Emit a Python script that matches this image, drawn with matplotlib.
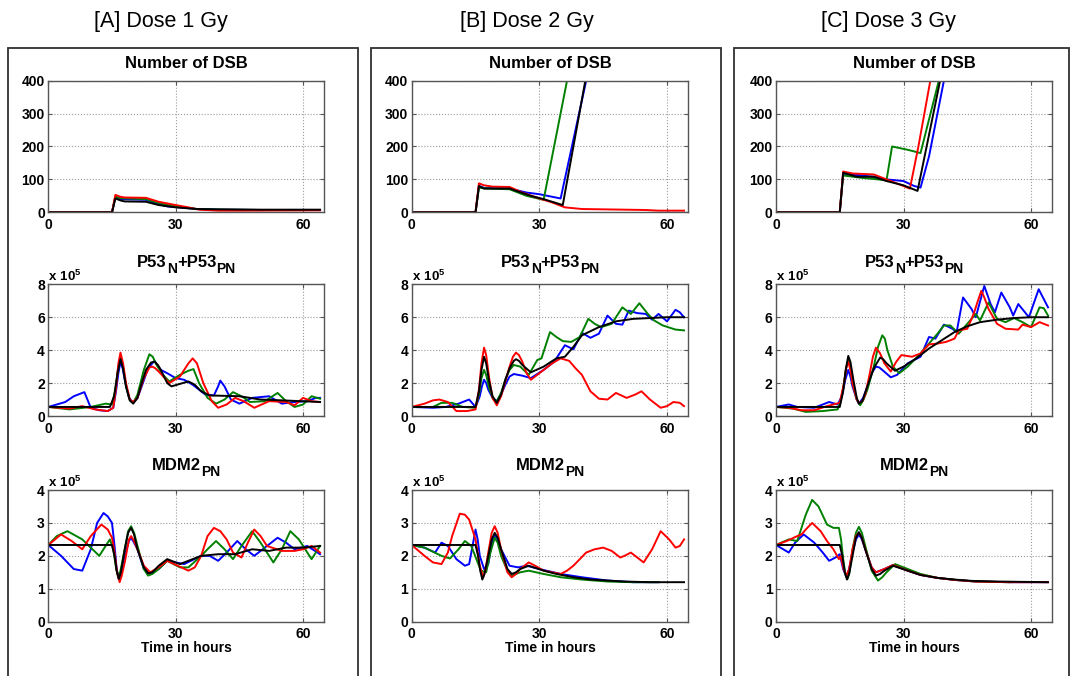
import matplotlib
matplotlib.use("Agg")
import matplotlib.pyplot as plt
from matplotlib.patches import Rectangle
from matplotlib.transforms import IdentityTransform

plt.rcParams['font.family'] = ['Liberation Sans', 'DejaVu Sans']
plt.rcParams['mathtext.fontset'] = 'custom'
plt.rcParams['mathtext.rm'] = 'Liberation Sans'
plt.rcParams['mathtext.bf'] = 'Liberation Sans:bold'

# ---------------- data (time in hours, value) ----------------
COLUMN_TITLES = ['[A] Dose 1 Gy', '[B] Dose 2 Gy', '[C] Dose 3 Gy']
# row titles: list of (text, is_subscript)
ROW_TITLES = [
    [('Number of DSB', False)],
    [('P53', False), ('N', True), ('+P53', False), ('PN', True)],
    [('MDM2', False), ('PN', True)],
]
X_TICKS = [0, 30, 60]
Y_TICKS_DSB = [0, 100, 200, 300, 400]
Y_TICKS_P53 = [0, 2, 4, 6, 8]      # x 10^5
Y_TICKS_MDM2 = [0, 1, 2, 3, 4]     # x 10^5
X_LABEL = 'Time in hours'

# ---- [A] 1 Gy ----
A_DSB_BLUE = [(0,0),(15,0),(15.8,46),(17,40),(23,38),(26,25),(28,18),(30,16),(35,10),(40,8),(50,7),(64,7)]
A_DSB_GREEN = [(0,0),(15,0),(15.8,48),(17,43),(23,40),(26,28),(30,18),(35,10),(40,8),(50,7),(64,7)]
A_DSB_RED = [(0,0),(15,0),(15.8,53),(17,47),(18,45),(23,44),(26,32),(30,22),(33,15),(35.5,8),(40,5),(45,5),(64,6)]
A_DSB_BLACK = [(0,0),(15,0),(15.8,42),(17,36),(18,33),(23,32),(26,22),(30,15),(35,10),(40,9),(50,8),(64,8)]

A_P53_BLUE = [(0,.55),(2,.7),(4,.85),(6,1.2),(8.5,1.45),(10,.5),(12,.35),(14,.3),(15.3,.5),(16,1.6),(16.5,2.6),(17,3.3),(17.5,2.9),(18,2.2),(19,1.1),(20,.8),(21,1.1),(22,1.8),(23.5,2.9),(25,3.35),(26.5,2.8),(28,2.6),(30,2.3),(32,2.2),(34,1.9),(37,1.3),(39,1.25),(40,1.8),(40.5,2.15),(41.5,1.8),(43,1.0),(45,.75),(48,1.1),(52,1.2),(55,.75),(58,.85),(61,.9),(63,1.1),(64,1.1)]
A_P53_GREEN = [(0,.55),(5,.4),(10,.55),(13.5,.75),(15,.7),(15.8,1.6),(16.4,2.8),(17,3.6),(17.6,3.0),(18.3,1.8),(19.2,.95),(20,.8),(21,1.3),(22.5,2.8),(23.8,3.75),(24.6,3.6),(25.5,3.1),(27,2.5),(28.5,2.1),(31,2.5),(33,2.75),(34.2,2.85),(35.5,2.0),(37.5,1.1),(39.5,.75),(41.5,1.0),(43.5,1.45),(45.5,1.2),(47.5,.85),(51,.9),(54,1.4),(56,.9),(58,.55),(60,.7),(62,1.2),(64,1.05)]
A_P53_RED = [(0,.55),(2.5,.5),(5,.45),(8,.6),(11,.4),(14,.3),(15.3,.5),(16,1.8),(16.5,3.2),(17,3.85),(17.6,3.2),(18.3,2.0),(19.2,1.0),(20,.85),(21,1.1),(22.5,2.3),(23.8,2.95),(24.5,3.0),(25.2,2.9),(26,2.7),(28.5,2.0),(31,2.4),(33,3.2),(34,3.5),(35,3.2),(36.5,2.0),(38.5,.9),(40,.5),(42,.7),(44,1.1),(46,.9),(48.5,.5),(52,.9),(56,.85),(58,.65),(60,1.1),(62,.9),(64,.85)]
A_P53_BLACK = [(0,.55),(14.5,.55),(15.5,1.2),(16.3,2.6),(17,3.45),(17.6,2.9),(18.3,1.8),(19.2,.95),(20,.75),(21,1.1),(22,2.0),(23,2.8),(24.2,3.25),(25,3.3),(25.8,3.1),(26.5,2.8),(28,2.0),(29,1.8),(31,1.95),(33,2.1),(34.5,1.9),(36,1.5),(38,1.25),(45,1.2),(50,1.0),(55,.95),(64,.85)]

A_MDM2_BLUE = [(0,2.33),(3,2.0),(6,1.6),(8,1.55),(10,2.2),(11.5,3.0),(13,3.3),(14,3.2),(15,3.0),(15.6,2.3),(16.1,1.6),(16.6,1.3),(17.2,1.55),(18,2.0),(19,2.45),(19.5,2.55),(20.2,2.4),(21,2.2),(22.5,1.6),(24,1.45),(26,1.6),(28,1.85),(32,1.75),(36,2.0),(38,2.0),(40,1.85),(42,2.1),(44.5,2.45),(46.5,2.2),(48.5,2.0),(51,2.25),(54,2.55),(56,2.4),(58,2.2),(61,2.3),(64,2.05)]
A_MDM2_GREEN = [(0,2.33),(2,2.6),(4.5,2.75),(8,2.5),(10,2.25),(12,2.0),(13.5,2.3),(14.5,2.5),(15.3,2.2),(16,1.6),(16.5,1.35),(17,1.55),(18,2.2),(18.8,2.75),(19.5,2.9),(20.2,2.7),(21,2.3),(22.5,1.6),(23.5,1.4),(24.5,1.45),(26,1.6),(28,1.85),(31,1.65),(33,1.65),(36,2.0),(37.5,2.2),(39.5,2.45),(41.5,2.2),(43.5,1.9),(45.5,2.3),(48,2.75),(50,2.4),(53,1.8),(55,2.2),(57,2.75),(59,2.5),(62,1.9),(64,2.3)]
A_MDM2_RED = [(0,2.33),(3,2.65),(5.5,2.45),(8,2.2),(10,2.6),(12.5,2.95),(14,2.8),(15,2.55),(15.6,2.1),(16.2,1.5),(16.8,1.2),(17.3,1.4),(18,1.8),(19,2.5),(19.5,2.6),(20.2,2.45),(21,2.2),(22.5,1.7),(24,1.5),(26,1.65),(28,1.85),(30.5,1.7),(33,1.55),(34.5,1.65),(36,2.0),(37.5,2.6),(39,2.85),(40.5,2.75),(42,2.5),(43.5,2.1),(45.5,1.95),(47,2.4),(48.5,2.8),(50,2.6),(51.5,2.3),(55,2.15),(58,2.15),(60,2.2),(62,2.3),(64,2.1)]
A_MDM2_BLACK = [(0,2.33),(15,2.33),(15.6,2.0),(16.1,1.55),(16.6,1.3),(17.1,1.5),(18,2.2),(18.8,2.7),(19.5,2.85),(20.2,2.65),(21,2.2),(22.5,1.65),(23.5,1.47),(24.5,1.5),(26,1.7),(28,1.9),(31,1.75),(33,1.85),(36,2.0),(40,2.05),(44,2.05),(48,2.2),(52,2.15),(56,2.25),(60,2.25),(64,2.3)]

# ---- [B] 2 Gy ----
B_DSB_BLUE = [(0,0),(15,0),(15.8,80),(17,74),(23,72),(27,60),(30,55),(35,42),(41,400),(41.5,430)]
B_DSB_GREEN = [(0,0),(15,0),(15.8,75),(17,73),(23,70),(27,50),(31,38),(36.5,400),(37,430)]
B_DSB_RED = [(0,0),(15,0),(15.8,88),(17,82),(19,78),(23,77),(26,60),(30,42),(33,30),(36,15),(40,10),(50,8),(55,7),(58,5),(64,5)]
B_DSB_BLACK = [(0,0),(15,0),(15.8,80),(17,72),(23,72),(28,50),(31,40),(35.5,22),(40.8,400),(41.3,430)]

B_P53_BLUE = [(0,.55),(5,.5),(8,.55),(11,.75),(13.5,1.0),(15,.55),(16,1.2),(16.5,1.8),(17,2.2),(17.5,2.0),(18,1.6),(19,1.1),(20,.9),(21,1.3),(22,1.9),(23,2.4),(24,2.55),(26,2.45),(28,2.3),(31,2.8),(33.5,3.3),(36,4.3),(38,4.05),(40,5.05),(42,4.75),(44,5.0),(46,6.1),(48,5.6),(49.5,5.55),(51,6.4),(53,6.25),(55,6.2),(56.5,5.85),(58,6.2),(60,5.75),(62,6.45),(63,6.3),(64,6.0)]
B_P53_GREEN = [(0,.55),(5,.55),(7,.8),(9.5,.8),(12,.55),(15,.5),(15.8,1.3),(16.4,2.3),(17,2.8),(17.5,2.5),(18.2,1.7),(19.2,1.0),(20,.9),(21,1.4),(22,2.2),(23,2.8),(24,3.1),(25.5,3.0),(27.5,2.5),(29.5,3.4),(30.5,3.5),(32.5,5.1),(34,4.8),(35.5,4.55),(37.5,4.5),(39.5,4.8),(41.5,5.9),(43,5.6),(44.5,5.4),(47,5.6),(49.5,6.6),(51.5,6.2),(53.5,6.85),(55.5,6.2),(57,5.8),(59,5.5),(62,5.25),(64,5.2)]
B_P53_RED = [(0,.55),(3,.75),(5,.95),(6.5,1.0),(8.5,.85),(10.5,.3),(13,.3),(15,.4),(15.8,1.6),(16.4,3.2),(17,4.15),(17.5,3.7),(18.2,2.3),(19,1.1),(20,.65),(21,1.2),(22,2.1),(23,3.0),(23.8,3.6),(24.5,3.85),(25.2,3.7),(26,3.3),(27,2.6),(28,2.2),(30,2.6),(33,3.2),(35,3.5),(37,3.35),(38.5,2.9),(40,2.5),(42,1.5),(44,1.05),(46,1.0),(48,1.4),(50.5,1.1),(52.5,1.3),(54,1.5),(56,1.0),(58.5,.5),(60,.6),(61.5,.85),(63,.8),(64,.6)]
B_P53_BLACK = [(0,.55),(15,.55),(15.8,1.5),(16.4,2.8),(17,3.6),(17.5,3.2),(18.2,2.1),(19,1.2),(20,.8),(21,1.3),(22,2.2),(23,2.9),(24,3.35),(24.5,3.45),(25.2,3.35),(26,3.1),(28,2.65),(31,3.0),(34,3.5),(36,3.6),(38,4.2),(40,4.9),(44,5.4),(48,5.75),(52,5.9),(56,5.95),(60,6.0),(64,6.0)]

B_MDM2_BLUE = [(0,2.33),(3,2.25),(5.5,2.1),(7,2.4),(8.5,2.3),(10.5,1.9),(12.5,1.7),(13.5,1.75),(14.3,2.3),(15,2.8),(15.5,2.5),(16,2.0),(17,1.6),(18,1.75),(18.8,2.4),(19.5,2.65),(20.2,2.5),(21,2.2),(23,1.7),(25,1.65),(27,1.7),(30,1.6),(35,1.45),(40,1.35),(46,1.25),(52,1.2),(58,1.2)]
B_MDM2_GREEN = [(0,2.33),(3,2.25),(7,2.0),(9,1.92),(11,2.2),(12.5,2.45),(14,2.3),(15.5,1.8),(16.3,1.55),(17.5,1.5),(18.5,2.1),(19.5,2.55),(20.2,2.4),(21,2.0),(22.5,1.55),(23.5,1.4),(25.5,1.5),(27.5,1.55),(31,1.45),(35,1.35),(40,1.28),(46,1.22),(52,1.2),(58,1.2)]
B_MDM2_RED = [(0,2.33),(3,2.0),(5,1.8),(7,1.75),(8.5,2.1),(9.5,2.6),(11.3,3.28),(12.5,3.25),(13.5,3.1),(15,2.5),(16,1.7),(16.8,1.35),(17.3,1.55),(18,2.1),(18.8,2.7),(19.5,2.9),(20.2,2.7),(21,2.2),(22.5,1.5),(23.5,1.35),(24.5,1.45),(25.5,1.6),(27.5,1.8),(29,1.7),(31,1.55),(35,1.45),(36.5,1.55),(38,1.7),(41,2.1),(43,2.2),(45,2.25),(47,2.15),(49,1.95),(50,2.0),(51.5,2.1),(53,1.95),(54.5,1.8),(56.5,2.2),(58.5,2.75),(60.5,2.5),(62,2.25),(63,2.3),(64,2.5)]
B_MDM2_BLACK = [(0,2.33),(15,2.33),(15.6,2.0),(16.1,1.55),(16.6,1.28),(17.1,1.45),(18,2.0),(18.8,2.5),(19.5,2.7),(20.2,2.55),(21,2.2),(22.5,1.6),(23.5,1.45),(24.5,1.5),(25.5,1.6),(27.5,1.7),(31,1.55),(34,1.45),(38,1.35),(42,1.28),(46,1.25),(50,1.22),(56,1.2),(64,1.2)]

# ---- [C] 3 Gy ----
C_DSB_BLUE = [(0,0),(15,0),(15.8,118),(20,112),(23,108),(26,100),(30,95),(32.5,80),(34,75),(36,170),(39.5,400),(39.8,430)]
C_DSB_GREEN = [(0,0),(15,0),(15.8,112),(20,105),(24,100),(26,97),(27.3,200),(31,190),(34,180),(38.3,400),(38.6,430)]
C_DSB_RED = [(0,0),(15,0),(15.8,124),(18,118),(23,115),(26,100),(29,85),(31.5,72),(33.5,200),(36.3,400),(36.6,430)]
C_DSB_BLACK = [(0,0),(15,0),(15.8,120),(19,108),(23,108),(26,95),(30,82),(33.3,65),(38.6,400),(38.9,430)]

C_P53_BLUE = [(0,.55),(3,.7),(5,.55),(9,.5),(12.5,.85),(14.5,.7),(15.5,1.2),(16.3,2.2),(17,2.8),(17.5,2.4),(18,1.8),(19,1.0),(19.5,.75),(20.5,1.1),(21.5,1.8),(22.5,2.6),(23.5,3.0),(24.3,2.95),(25,2.8),(27,2.35),(28.5,2.5),(31,3.2),(34,3.6),(36,4.8),(37.5,4.7),(39.5,5.55),(41.5,5.3),(42.5,5.1),(44,7.2),(46,6.5),(47,6.0),(49,7.9),(50.5,6.8),(51.5,6.3),(53,7.5),(55,6.6),(55.8,6.1),(57,6.8),(59.5,6.0),(61.8,7.7),(64,6.6)]
C_P53_GREEN = [(0,.55),(4,.45),(7,.25),(11,.3),(14.5,.4),(15.3,1.0),(16,2.0),(16.5,2.9),(17,3.4),(17.5,3.0),(18,2.0),(19,1.0),(19.8,.65),(20.6,1.0),(21.5,1.6),(23,3.0),(24,4.2),(25,4.9),(25.6,4.7),(26.2,4.0),(27.5,3.0),(29,2.6),(31,3.0),(34,3.8),(36,4.4),(38,5.0),(39.5,5.5),(41,5.5),(43,5.0),(45,5.6),(47,6.2),(48,5.8),(50,6.9),(52,5.9),(54,5.7),(56,5.95),(58,5.7),(60,5.4),(62,6.6),(63,6.55),(64,6.1)]
C_P53_RED = [(0,.55),(3,.5),(6,.35),(9,.35),(12,.6),(15,.8),(16,2.0),(16.5,2.9),(17,3.3),(17.5,2.8),(18,2.0),(19,1.0),(19.5,.8),(20.3,.9),(21,1.3),(22,2.5),(22.8,3.6),(23.5,4.15),(24.5,3.8),(25.5,3.2),(27,2.7),(28.3,3.3),(29.5,3.7),(32,3.6),(34,3.8),(36,4.35),(38,4.4),(40,4.5),(42,4.7),(43,5.2),(45,5.3),(46.5,6.2),(47.5,7.0),(48.3,7.6),(49,7.2),(50,6.5),(52,5.6),(54,5.3),(57,5.25),(58,5.55),(60,5.4),(62,5.7),(64,5.5)]
C_P53_BLACK = [(0,.55),(15,.55),(15.8,1.5),(16.4,2.8),(17,3.65),(17.5,3.3),(18.2,2.2),(19,1.1),(19.5,.75),(20.3,.9),(21.5,1.8),(23,2.9),(24.5,3.55),(25.2,3.45),(26,3.2),(28,2.75),(30,3.0),(33,3.5),(36,4.1),(39,4.6),(42,5.1),(45,5.45),(48,5.7),(52,5.85),(56,5.95),(60,6.0),(64,6.0)]

C_MDM2_BLUE = [(0,2.33),(3,2.1),(4.5,2.4),(6.5,2.65),(9,2.4),(11,2.1),(12.5,1.85),(14,1.95),(15,2.05),(15.8,1.6),(16.6,1.35),(17.2,1.6),(18,2.1),(18.8,2.5),(19.5,2.65),(20.2,2.5),(21,2.2),(22.5,1.65),(23.5,1.5),(25.5,1.6),(27.5,1.72),(31,1.55),(34,1.42),(38,1.33),(42,1.27),(47,1.22),(55,1.2),(64,1.2)]
C_MDM2_GREEN = [(0,2.33),(3,2.5),(5,2.45),(7,3.25),(8.5,3.7),(10,3.5),(12,2.95),(13.5,2.85),(14.8,2.85),(15.3,2.5),(15.8,1.9),(16.3,1.45),(16.8,1.3),(17.3,1.5),(18,2.2),(18.8,2.7),(19.5,2.88),(20.2,2.7),(21,2.3),(22.5,1.55),(24,1.25),(25,1.35),(26,1.5),(28,1.75),(31,1.6),(34,1.45),(38,1.33),(42,1.27),(47,1.22),(55,1.2)]
C_MDM2_RED = [(0,2.33),(2.5,2.45),(5,2.6),(6,2.65),(7,2.8),(8.5,3.0),(10.5,2.75),(12,2.45),(13.5,2.2),(14.8,1.9),(15.2,2.0),(15.9,1.6),(16.6,1.4),(17.2,1.6),(18,2.2),(18.8,2.6),(19.5,2.7),(20.2,2.55),(21,2.2),(22.5,1.65),(23.5,1.5),(25.5,1.6),(27.5,1.72),(31,1.55),(34,1.42),(38,1.33),(42,1.27),(47,1.22),(55,1.2),(64,1.2)]
C_MDM2_BLACK = [(0,2.33),(15,2.33),(15.6,2.0),(16.2,1.5),(16.7,1.28),(17.2,1.45),(18,2.0),(18.8,2.55),(19.5,2.72),(20.2,2.55),(21,2.2),(22.5,1.6),(23.5,1.4),(24.5,1.45),(25.5,1.55),(27.5,1.7),(31,1.55),(34,1.42),(38,1.33),(42,1.28),(46,1.24),(52,1.22),(64,1.2)]

PANELS = [
    [(A_DSB_BLUE, A_DSB_GREEN, A_DSB_RED, A_DSB_BLACK),
     (A_P53_BLUE, A_P53_GREEN, A_P53_RED, A_P53_BLACK),
     (A_MDM2_BLUE, A_MDM2_GREEN, A_MDM2_RED, A_MDM2_BLACK)],
    [(B_DSB_BLUE, B_DSB_GREEN, B_DSB_RED, B_DSB_BLACK),
     (B_P53_BLUE, B_P53_GREEN, B_P53_RED, B_P53_BLACK),
     (B_MDM2_BLUE, B_MDM2_GREEN, B_MDM2_RED, B_MDM2_BLACK)],
    [(C_DSB_BLUE, C_DSB_GREEN, C_DSB_RED, C_DSB_BLACK),
     (C_P53_BLUE, C_P53_GREEN, C_P53_RED, C_P53_BLACK),
     (C_MDM2_BLUE, C_MDM2_GREEN, C_MDM2_RED, C_MDM2_BLACK)],
]
SERIES_COLORS = ['#0000ff', '#008000', '#ff0000', '#000000']

# ---------------- layout (pixels) ----------------
W, H = 1072, 676
COL_X = [(48.3, 324.3), (411.7, 688.3), (776.0, 1052.3)]
ROW_Y = [(80.7, 212.3), (284.3, 416.0), (490.0, 621.7)]
TITLE_BASELINE = [68.3, 267.0, 470.0]
BOX_X = [(8.3, 358.3), (371.0, 721.0), (734.0, 1069.0)]
BOX_TOP = 47.7
COL_TITLE_X = [161, 527, 888]
YLIMS = [(0, 400), (0, 8), (0, 4)]
YTICKS = [Y_TICKS_DSB, Y_TICKS_P53, Y_TICKS_MDM2]

fig = plt.figure(figsize=(W / 100, H / 100), dpi=100)
fig.patch.set_facecolor('white')
renderer = fig.canvas.get_renderer()


def rich_title(parts, cx, base_y):
    items = []
    total = 0.0
    for s, sub in parts:
        t = fig.text(0, 0, s, transform=IdentityTransform(), fontsize=10 if sub else 12,
                     fontweight='bold', ha='left', va='baseline')
        w = t.get_window_extent(renderer).width
        items.append((t, sub, w))
        total += w
    x = cx - total / 2
    for t, sub, w in items:
        t.set_position((x, H - base_y - (6 if sub else 0)))
        x += w


for c in range(3):
    bx0, bx1 = BOX_X[c]
    fig.add_artist(Rectangle((bx0 / W, -0.05), (bx1 - bx0) / W, 1.05 - BOX_TOP / H,
                             transform=fig.transFigure, fill=False,
                             edgecolor='#303030', linewidth=1.3))
    fig.text(COL_TITLE_X[c] / W, 1 - 22 / H, COLUMN_TITLES[c], ha='center', va='center',
             fontsize=15.5)
    x0, x1 = COL_X[c]
    for r in range(3):
        y0, y1 = ROW_Y[r]
        ax = fig.add_axes([x0 / W, 1 - y1 / H, (x1 - x0) / W, (y1 - y0) / H])
        for series, col in zip(PANELS[c][r], SERIES_COLORS):
            ts = [p[0] for p in series]
            vs = [p[1] for p in series]
            ax.plot(ts, vs, color=col, linewidth=1.4, solid_joinstyle='round')
        ax.set_xlim(0, 65)
        ax.set_ylim(*YLIMS[r])
        ax.set_xticks(X_TICKS)
        ax.set_yticks(YTICKS[r])
        ax.set_xticklabels([str(v) for v in X_TICKS], fontweight='bold', fontsize=10)
        ax.set_yticklabels([str(v) for v in YTICKS[r]], fontweight='bold', fontsize=10)
        ax.tick_params(direction='in', length=3, width=0.8, color='#555555', pad=2.5,
                       top=True, right=True)
        ax.tick_params(axis='x', pad=4)
        ax.grid(True, linestyle=':', color='#9a9a9a', linewidth=0.8)
        for s in ax.spines.values():
            s.set_color('#555555')
            s.set_linewidth(1.0)
        rich_title(ROW_TITLES[r], (x0 + x1) / 2, TITLE_BASELINE[r])
        if r > 0:
            ax.text(0, 1.0, r'$\mathbf{x\ 10^{5}}$', transform=ax.transAxes,
                    ha='left', va='bottom', fontsize=9.5)
        if r == 2:
            ax.set_xlabel(X_LABEL, fontsize=10, fontweight='bold', labelpad=0)

fig.savefig('out.png', dpi=100, facecolor='white')
